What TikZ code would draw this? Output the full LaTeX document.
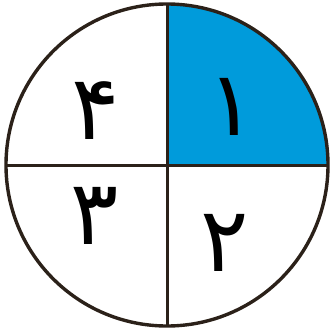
\documentclass[tikz,border=0pt]{standalone}
\usepackage{fontspec}
\newfontfamily\arabicfont[Script=Arabic]{DejaVu Sans}
\definecolor{rim}{HTML}{2B2119}
\definecolor{part}{HTML}{009BDB}
\tikzset{digit/.style={font=\arabicfont\fontsize{90}{90}\selectfont, inner sep=0pt}}
\begin{document}
\begin{tikzpicture}[x=1pt,y=1pt]
	\useasboundingbox (0,0) rectangle (334,333);
	\coordinate (o) at (167,168);
	
	\fill[part] (o) -- ++(161,0) arc (0:90:161) -- cycle;
	\draw[rim, line width=3.4pt] (o) circle (161);
	\draw[rim, line width=3pt] ([xshift=-161pt]o) -- ([xshift=161pt]o);
	\draw[rim, line width=3pt] ([yshift=-161pt]o) -- ([yshift=161pt]o);
	
	\node[digit] (one) at (232,226) {۱};
	\node[digit] (two) at (225,90) {۲};
	\node[digit] (three) at (95,117) {۳};
	\node[digit] (four) at (96,222) {۴};
\end{tikzpicture}
\end{document}
